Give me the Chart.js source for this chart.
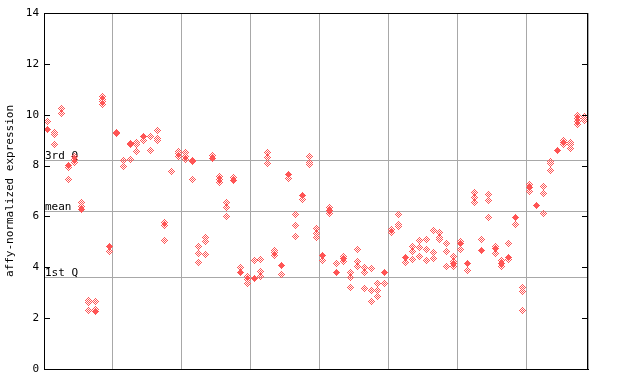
<!DOCTYPE html>
<html>
<head>
<meta charset="utf-8">
<script src="https://cdn.jsdelivr.net/npm/chart.js@4.4.1/dist/chart.umd.min.js"></script>
<style>
  html, body { margin: 0; padding: 0; background: #fff; }
</style>
</head>
<body>
<canvas id="ch" width="640" height="384"></canvas>
<script>
/* valori: una colonna per campione */
const N_SAMPLES = 79;
const Y_TICKS = [0, 2, 4, 6, 8, 10, 12, 14];
const REF_VALUES = [8.22, 6.21, 3.61];
const REF_LABELS = ['3rd Q', 'mean', '1st Q'];

// repliche (rombi a scacchiera)
const HOLLOW = [
  [9.72], [9.30, 9.22, 8.81], [10.24, 10.04], [7.91, 7.44], [8.36, 8.23, 8.14],
  [6.54, 6.41], [2.70, 2.62, 2.32], [2.64, 2.33], [10.72, 10.61, 10.51, 10.40], [4.63],
  [9.26], [8.19, 7.95], [8.87, 8.82, 8.23], [8.92, 8.84, 8.54], [8.97],
  [9.14, 8.59], [9.37, 9.08, 8.97], [5.75, 5.65, 5.06], [7.75], [8.56, 8.46, 8.36],
  [8.50, 8.37, 8.24], [8.21, 8.15, 7.44], [4.80, 4.53, 4.17], [5.16, 5.00, 4.49], [8.41],
  [7.57, 7.45, 7.32], [6.53, 6.34, 5.99], [7.55], [3.98], [3.62, 3.51, 3.38],
  [4.26], [4.29, 3.83, 3.65], [8.51, 8.30, 8.07], [4.66, 4.57, 4.46], [3.70],
  [7.48], [6.06, 5.63, 5.23], [6.65], [8.36, 8.13, 8.05], [5.52, 5.34, 5.16],
  [4.27], [6.34, 6.11], [4.13], [4.42, 4.24], [3.78, 3.58, 3.19],
  [4.68, 4.22, 4.04], [4.00, 3.78, 3.15], [3.97, 3.07, 2.64], [3.35, 3.07, 2.86], [3.38],
  [5.47, 5.37], [6.06, 5.69, 5.59], [4.20], [4.83, 4.64, 4.29], [5.04, 4.76, 4.41],
  [5.08, 4.68, 4.25], [5.43, 4.60, 4.33], [5.35, 5.18, 5.08], [4.92, 4.64, 4.05], [4.42, 4.24, 4.05],
  [5.00, 4.68], [3.87], [6.93, 6.73, 6.53], [5.08], [6.85, 6.61, 5.94],
  [4.80, 4.53], [4.26, 4.05], [4.92, 4.29], [5.67], [3.19, 3.03, 2.32],
  [7.25, 6.99], [], [7.16, 6.89, 6.10], [8.15, 8.07, 7.79], [],
  [9.00, 8.84], [8.92, 8.82, 8.66], [9.96, 9.85, 9.74, 9.60], [9.94, 9.85, 9.77]
];

// rombi pieni (null = nessuno)
const FILLED = [
  9.43, null, null, 8.01, null, 6.28, null, 2.25, null, 4.83,
  9.31, null, null, null, 9.15, null, null, null, null, null,
  null, null, null, null, 8.27, null, null, 7.43, 3.80, null,
  3.57, null, null, null, 4.08, 7.66, null, 6.83, null, null,
  4.45, 6.24, 3.80, 4.33, null, null, null, null, null, 3.80,
  null, null, 4.37, null, null, null, null, null, null, 4.13,
  4.94, 4.16, null, 4.67, null, 4.72, 4.13, 4.37, 5.97, null,
  7.15, 6.43, null, null, 8.60, 8.92, null, null, null
];

const RED = 'rgb(255,85,85)';
const GRID = '#a8a8a8';
const FONT = '"DejaVu Sans Mono", monospace';

function diamondImg(checker) {
  const c = document.createElement('canvas');
  c.width = 7; c.height = 7;
  const g = c.getContext('2d');
  g.fillStyle = RED;
  for (let y = 0; y < 7; y++) {
    for (let x = 0; x < 7; x++) {
      if (Math.abs(x - 3) + Math.abs(y - 3) > 3) continue;
      if (checker && (x + y) % 2 === 0) continue;
      g.fillRect(x, y, 1, 1);
    }
  }
  return c;
}

const hollowPts = HOLLOW.flatMap((vals, i) => vals.map(v => ({ x: i + 0.5, y: v })));
const filledPts = FILLED.map((v, i) => v == null ? null : { x: i + 0.5, y: v }).filter(Boolean);

/* riquadro, linee dei quartili e tacche interne */
const framePlugin = {
  id: 'frame',
  beforeDatasetsDraw(chart) {
    const { ctx, chartArea: a, scales: { y } } = chart;
    ctx.save();
    ctx.strokeStyle = GRID;
    ctx.lineWidth = 1;
    ctx.fillStyle = '#000';
    ctx.font = '11px ' + FONT;
    ctx.textBaseline = 'alphabetic';
    REF_VALUES.forEach((v, k) => {
      const py = Math.round(y.getPixelForValue(v)) + 0.5;
      ctx.beginPath(); ctx.moveTo(a.left, py); ctx.lineTo(a.right, py); ctx.stroke();
      ctx.fillText(REF_LABELS[k], a.left + 1, py - 2);
    });
    ctx.restore();
    ctx.imageSmoothingEnabled = false;
  },
  afterDraw(chart) {
    const { ctx, chartArea: a, scales: { y } } = chart;
    ctx.save();
    ctx.strokeStyle = '#000';
    ctx.lineWidth = 1;
    ctx.strokeRect(a.left + 0.5, a.top + 0.5, a.right - a.left - 1, a.bottom - a.top);
    ctx.beginPath();
    Y_TICKS.forEach(v => {
      const py = Math.round(y.getPixelForValue(v)) + 0.5;
      ctx.moveTo(a.left, py); ctx.lineTo(a.left + 6, py);
      ctx.moveTo(a.right - 6, py); ctx.lineTo(a.right, py);
    });
    ctx.stroke();
    ctx.restore();
  }
};

new Chart(document.getElementById('ch'), {
  type: 'scatter',
  data: {
    datasets: [
      { label: 'rep', data: hollowPts, pointStyle: diamondImg(true), pointRadius: 3.5, order: 2 },
      { label: 'pieni', data: filledPts, pointStyle: diamondImg(false), pointRadius: 3.5, order: 1 }
    ]
  },
  options: {
    responsive: false, animation: false,
    layout: { padding: { left: 0, top: 13, right: 52, bottom: 15 } },
    plugins: { legend: { display: false }, tooltip: { enabled: false } },
    scales: {
      x: {
        type: 'linear', min: 0, max: N_SAMPLES,
        ticks: { display: false, stepSize: 10 },
        grid: { color: GRID, lineWidth: 1, drawTicks: false },
        border: { display: true, color: '#000' },
        afterFit: s => { s.height = 0; }
      },
      y: {
        min: 0, max: 14,
        afterBuildTicks: s => { s.ticks = Y_TICKS.map(v => ({ value: v })); },
        ticks: { color: '#000', font: { family: FONT, size: 11 }, padding: 5 },
        grid: { display: false, drawTicks: false },
        border: { display: true, color: '#000' },
        title: { display: true, text: 'affy-normalized expression', color: '#000',
                 font: { family: FONT, size: 11 }, padding: { top: 4, bottom: 0 } },
        afterFit: s => { s.width = 44; }
      }
    }
  },
  plugins: [framePlugin]
});
</script>
</body>
</html>
